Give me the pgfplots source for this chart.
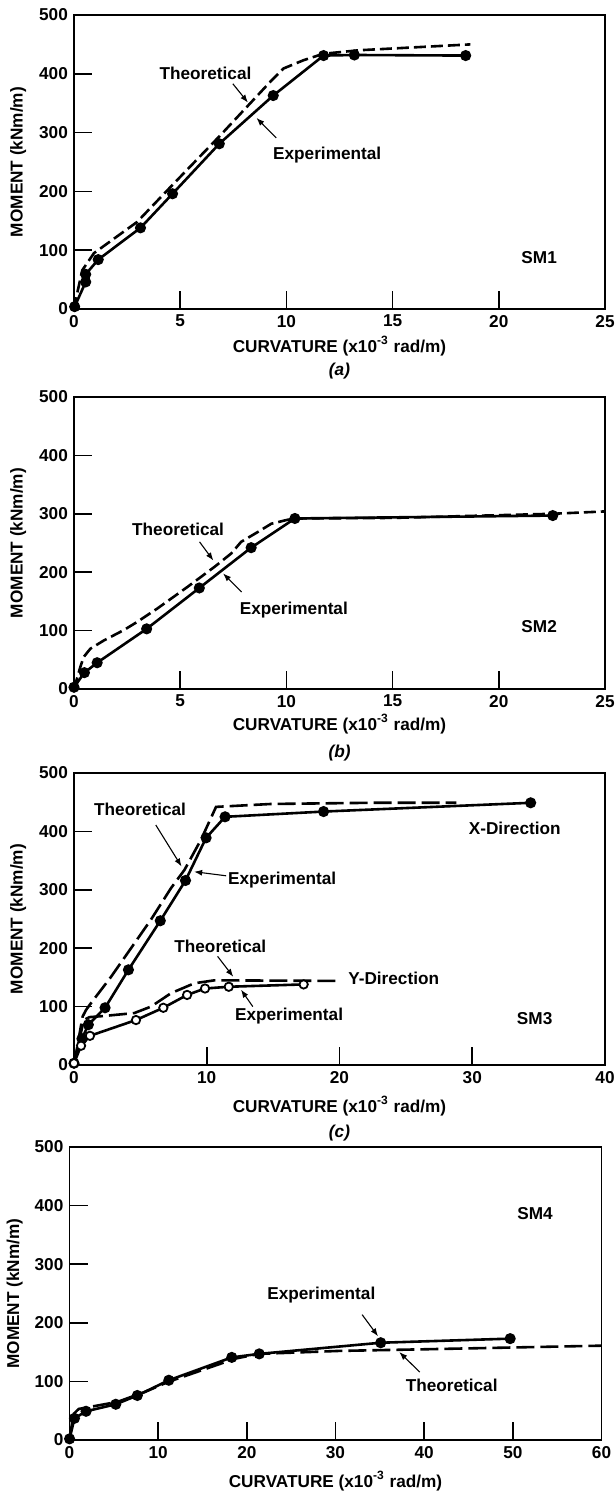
\documentclass[border=0pt]{standalone}
\usepackage{fontspec}
\setmainfont{Liberation Sans}
\usepackage{pgfplots}
\pgfplotsset{compat=1.18}
\usetikzlibrary{arrows.meta}
\tikzset{ann/.style={-{Latex[length=4pt,width=3pt]}, line width=0.55pt}}
\pgfplotsset{
  panel/.style={
    scale only axis, anchor=south west, clip=false,
    axis line style={line width=0.8pt},
    tick align=inside, xtick pos=left, ytick pos=left,
    major tick length=9pt,
    every tick/.style={black, line width=0.8pt},
    ymin=0, ymax=500, ytick={0,100,200,300,400,500},
    /pgf/number format/assume math mode=true,
    tick label style={font=\bfseries},
    label style={font=\bfseries},
    xlabel={CURVATURE (x10\textsuperscript{-3} rad/m)},
    ylabel={MOMENT (kNm/m)},
  },
  exp/.style={black, line width=1.3pt, mark=*, mark size=2.1pt, mark options={solid, fill=black}},
  expo/.style={black, line width=1.3pt, mark=*, mark size=2.1pt, mark options={solid, fill=white, line width=0.9pt}},
  theo/.style={black, line width=1.3pt, dash pattern=on 6pt off 2.5pt, no marks},
  theol/.style={black, line width=1.3pt, dash pattern=on 9pt off 3pt, no marks},
}
\begin{document}
{\fontsize{8.6}{10}\selectfont\bfseries
\begin{tikzpicture}
\useasboundingbox (0,0) rectangle (307.5pt,-748.5pt);
% ---------------- (a) SM1
\begin{axis}[panel, at={(37pt,-154.5pt)}, width=265.5pt, height=147pt,
  xmin=0, xmax=25, xtick={0,5,10,15,20,25},
  xlabel style={at={(axis description cs:0.5,0)}, anchor=center, yshift=-18.5pt},
  ylabel style={at={(axis description cs:-0.105,0.5)}, anchor=center}]
\addplot[theo] coordinates {(0,0) (0.2,35) (0.39,66) (0.94,95) (2.97,148) (4.69,213) (6.88,295) (9.23,386) (9.86,409) (10.8,423) (11.73,434) (13.4,440) (18.66,450)};
\addplot[exp] coordinates {(0.03,4) (0.55,46) (0.55,59) (1.14,84) (3.13,138) (4.64,196) (6.84,281) (9.38,363) (11.75,431) (13.2,432) (18.44,431)};
\node at (axis cs:6.19,401) {Theoretical};
\draw[ann] (axis cs:7.48,383) -- (axis cs:8.19,351);
\node at (axis cs:11.92,262) {Experimental};
\draw[ann] (axis cs:9.52,291) -- (axis cs:8.59,325);
\node at (axis cs:21.9,88) {SM1};
\node[font=\bfseries\itshape] at (axis description cs:0.5,0) [yshift=-31pt] {(a)};
\end{axis}
% ---------------- (b) SM2
\begin{axis}[panel, at={(37pt,-344.5pt)}, width=265.5pt, height=146pt,
  xmin=0, xmax=25, xtick={0,5,10,15,20,25},
  xlabel style={at={(axis description cs:0.5,0)}, anchor=center, yshift=-17.5pt},
  ylabel style={at={(axis description cs:-0.105,0.5)}, anchor=center}]
\addplot[theo] coordinates {(0,0) (0.3,38) (0.46,55) (0.77,69) (1.4,83) (2.35,101) (2.98,115) (3.93,138) (5.35,175) (6.61,209) (7.4,232) (7.87,252) (8.66,269) (9.29,283) (10.08,290) (10.55,292) (15.06,293) (22.5,300) (24.95,304)};
\addplot[exp] coordinates {(0,3) (0.49,28) (1.09,45) (3.42,103) (5.9,173) (8.34,242) (10.4,292) (22.54,297)};
\node at (axis cs:4.9,273) {Theoretical};
\draw[ann] (axis cs:5.91,252) -- (axis cs:6.56,220);
\node at (axis cs:10.35,135) {Experimental};
\draw[ann] (axis cs:7.89,166) -- (axis cs:7.02,198);
\node at (axis cs:21.9,107) {SM2};
\node[font=\bfseries\itshape] at (axis description cs:0.5,0) [yshift=-32pt] {(b)};
\end{axis}
% ---------------- (c) SM3
\begin{axis}[panel, at={(37pt,-532.5pt)}, width=265.5pt, height=146pt,
  xmin=0, xmax=40, xtick={0,10,20,30,40},
  xlabel style={at={(axis description cs:0.5,0)}, anchor=center, yshift=-20.5pt},
  ylabel style={at={(axis description cs:-0.105,0.5)}, anchor=center}]
\addplot[theol] coordinates {(0,0) (0.65,83) (0.9,94) (1.28,106) (2.79,151) (5.8,249) (7.31,303) (8.32,334) (9.57,386) (10.7,442) (14.85,447) (22.4,449) (28.8,449)};
\addplot[exp] coordinates {(0,3) (0.6,45) (1.08,69) (2.34,98) (4.1,163) (6.5,247) (8.4,316) (9.95,389) (11.38,425) (18.8,434) (34.4,449)};
\addplot[theol] coordinates {(0,0) (0.73,77) (1.16,82) (2.29,84) (4.55,89) (5.8,100) (7.31,123) (9.07,140) (10.58,145) (19.87,144)};
\addplot[expo] coordinates {(0,3) (0.53,33) (1.2,50) (4.67,77) (6.73,98) (8.52,120) (9.87,131) (11.66,134) (17.3,138)};
\node at (axis cs:4.98,437) {Theoretical};
\draw[ann] (axis cs:6.16,411) -- (axis cs:8.1,340);
\node at (axis cs:15.68,317) {Experimental};
\draw[ann] (axis cs:11.46,324) -- (axis cs:9.05,331);
\node at (axis cs:33.2,406) {X-Direction};
\node at (axis cs:11.02,203) {Theoretical};
\draw[ann] (axis cs:10.82,186) -- (axis cs:12.0,151);
\node at (axis cs:24.08,149) {Y-Direction};
\node at (axis cs:16.2,84) {Experimental};
\draw[ann] (axis cs:13.47,100) -- (axis cs:12.58,129);
\node at (axis cs:34.7,80) {SM3};
\node[font=\bfseries\itshape] at (axis description cs:0.5,0) [yshift=-34pt] {(c)};
\end{axis}
% ---------------- (d) SM4
\begin{axis}[panel, at={(34.75pt,-720pt)}, width=266pt, height=146.5pt,
  xmin=0, xmax=60, xtick={0,10,20,30,40,50,60},
  xlabel style={at={(axis description cs:0.5,0)}, anchor=center, yshift=-20.5pt},
  ylabel style={at={(axis description cs:-0.103,0.5)}, anchor=center}]
\addplot[theol] coordinates {(0,0) (0.3,30) (0.5,45) (1.04,53) (5.4,65) (8.5,82) (11.1,99) (18.7,139) (21.4,147) (30.3,152) (40.6,155) (60,161)};
\addplot[exp] coordinates {(0.01,2) (0.56,37) (1.87,49) (5.22,61) (7.65,76) (11.2,102) (18.3,141) (21.4,147) (35.1,166) (49.7,173)};
\node at (axis cs:28.4,247) {Experimental};
\draw[ann] (axis cs:33.0,214) -- (axis cs:34.8,177);
\node at (axis cs:43.1,93) {Theoretical};
\draw[ann] (axis cs:39.5,116) -- (axis cs:37.2,150);
\node at (axis cs:52.5,386) {SM4};
\end{axis}
\end{tikzpicture}}
\end{document}
